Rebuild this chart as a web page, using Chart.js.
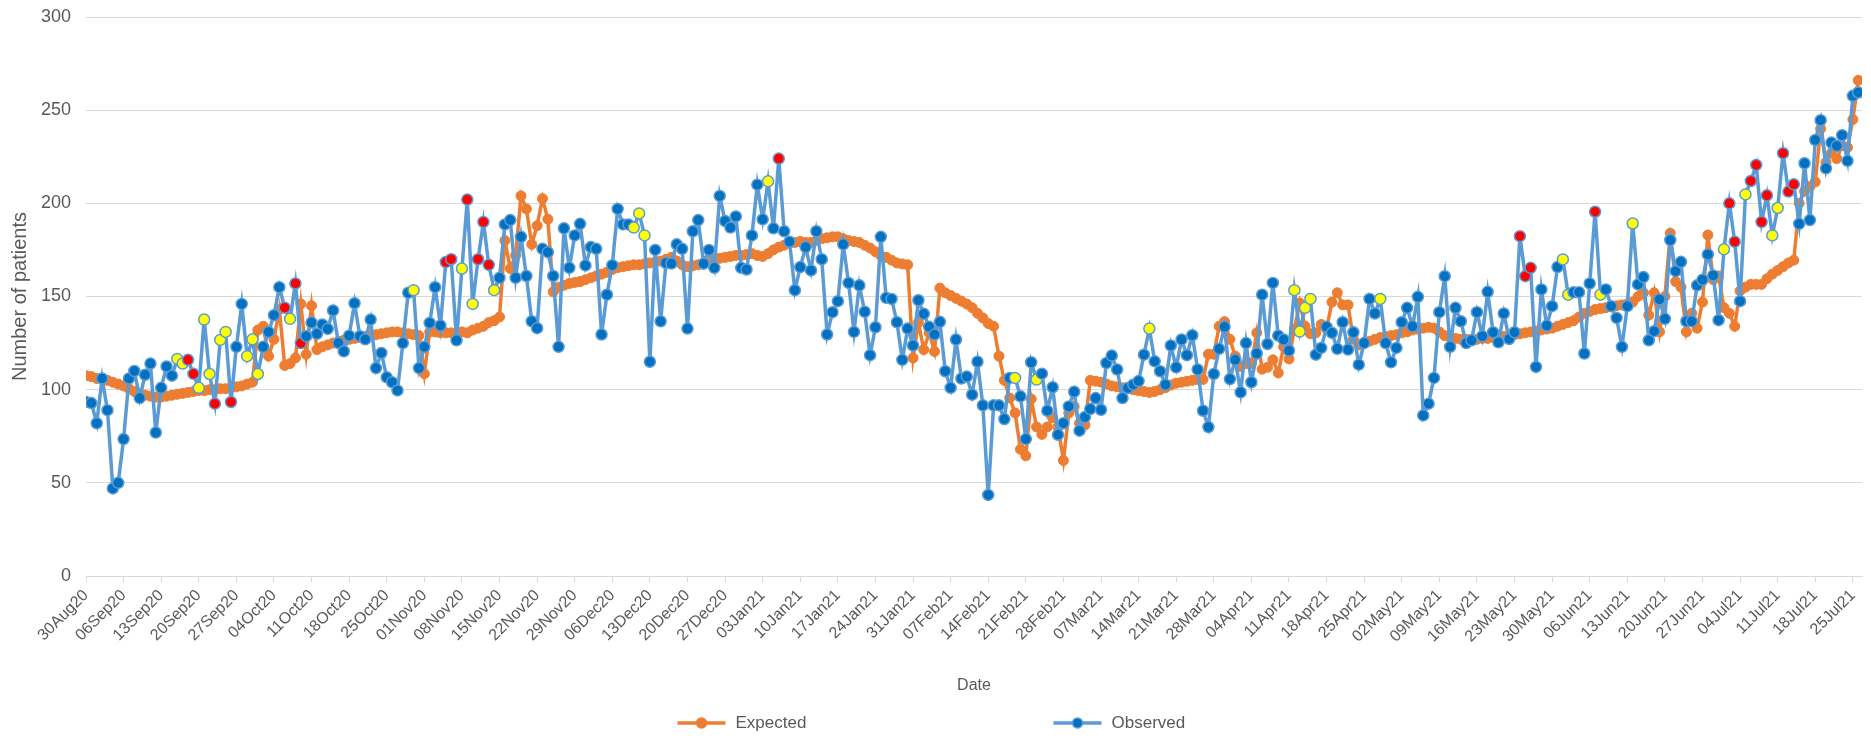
<!DOCTYPE html>
<html>
<head>
<meta charset="utf-8">
<script src="https://cdn.jsdelivr.net/npm/chart.js@4.4.1/dist/chart.umd.min.js"></script>
<style>
  html, body { margin: 0; padding: 0; background: #fff; }
  #wrap { width: 1871px; height: 739px; }
</style>
</head>
<body>
<div id="wrap"><canvas id="chart"></canvas></div>
<script>
// weekly tick labels, one every 7 days starting 30Aug20 (day 0)
var weekLabels = ['30Aug20','06Sep20','13Sep20','20Sep20','27Sep20','04Oct20','11Oct20','18Oct20','25Oct20',
  '01Nov20','08Nov20','15Nov20','22Nov20','29Nov20','06Dec20','13Dec20','20Dec20','27Dec20',
  '03Jan21','10Jan21','17Jan21','24Jan21','31Jan21','07Feb21','14Feb21','21Feb21','28Feb21',
  '07Mar21','14Mar21','21Mar21','28Mar21','04Apr21','11Apr21','18Apr21','25Apr21',
  '02May21','09May21','16May21','23May21','30May21','06Jun21','13Jun21','20Jun21','27Jun21',
  '04Jul21','11Jul21','18Jul21','25Jul21'];

// daily values, 30Aug20 .. 26Jul21
var expected = [
  107.5,107,106,106,105,104,103,102,100.5,99,
  98,97,96.5,96,96,96.5,97,97.5,98,98.5,
  99,99.5,99.5,100,100,100.5,100.5,101,101.5,102,
  103,104,132,134,118,127,143,113,114,117,
  146,119,145,121.5,123,124,125,126,126.5,127,
  127.5,128,128.5,129,129.5,130,130.5,131,131,130.5,
  130,129.5,129,108.5,131,131,130.5,130.5,130.5,130,
  131,130.5,132,133,134,136,137,139,180,165,
  172,204,197,178,188,202.5,191.5,152.5,155,156,
  157,157.5,158,159,160,161,162,163,164.5,165.5,
  166,166.5,167,167,167.5,168,168.5,169,170,171,
  169,167,166,166.5,167,168,169,170,170.5,171,
  171.5,172,172,172.5,173,172,171.5,173,175,176.5,
  177.5,178.5,179,179.5,179,179,180,181,181.5,182,
  182,181,180,179.5,179,177.5,176,174,172,171,
  169.5,168,167.5,167,117,136,121.5,130.5,120.5,154.5,
  152,150.5,149,147.5,146,144,141,138.5,135.5,134,
  118,105,95.5,87.5,68,64.5,95,80,76,80,
  85,80,62,87.5,91,82,81,105,104.5,104,
  103,102,101.5,101,100.5,100,99.5,99,98.5,99,
  100,101,102.5,103.5,104,104.5,105,105.5,105.5,119,
  119,134,136.5,127,118,112.5,114,114,130.5,111,
  112,116,109,123,116.5,132.5,146.5,134,130,130.5,
  135,132.5,147,152,145.5,145.5,127,124,125,126,
  127,128,128.5,129,129.5,130.5,131,132,132.5,133,
  133.5,133,131,129,128,127.5,127,127,127,127,
  127.5,127.5,128,128,128.5,129,129.5,130,130.5,131,
  131.5,132,132.5,133,134,135,136,137,139,141,
  142,143,143.5,144,144.5,145,145.5,146,147,150,
  152,140,152,131,150,184,158,155,131,141,
  133,147,183,159,161,144,141,134,153,155,
  156.5,156.5,156.5,159.5,162,164,166,168,169.5,200,
  206.5,209,211.5,240,222,227,224,231,230,245,266
];

var observed = [
  93.4,92.8,82,106,89,47,50,73.5,106,110,
  95.5,108,114,77,101,112.5,107.5,116.5,114,116,
  108.5,101,137.6,108.4,92.5,126.7,131,93.4,123,146,
  118,127,108.4,123,131,140,155,144,138,157,
  125,128.7,136,130,135,132.6,142.5,125,120.6,129,
  146.4,128.7,127,137.6,111.6,119.7,106.6,104,99.6,125,
  152,153.4,111.6,123,135.8,155,134.4,168.5,170,126.5,
  165,202,146,170,190,167,153.4,160,188.7,191,
  160,182,161,136.7,133,175.6,173.8,161,123,186.6,
  165.4,182.8,189,166.7,176.5,175.6,129.6,151,166.8,197,
  188.7,188.7,187,194.6,182.8,115,175,136.7,168,167.7,
  178,175.6,132.8,185,191,167.6,175,165.4,204,190.5,
  187,193,165.4,164.5,182.8,210,191.4,211.8,186.6,224,
  185,179.4,153.4,165.8,176.5,164,185,170,129.6,141.6,
  147.5,178,157.3,131,156,141.8,118.5,133.5,182,149.3,
  148.7,136.2,116,132.8,123.7,148,140.7,133.7,129.6,136.4,
  109.9,101,126.9,106,107,97.3,115,91.6,43.5,91.6,
  91.6,84.2,106.3,106.3,96.4,73.5,114.7,105.4,108.6,88.7,
  101.3,75.8,82,91,98.9,78,85.3,89.6,95.5,89.2,
  114.3,118.3,110.8,95.5,100.9,102.7,104.6,118.8,132.8,115.2,
  109.9,102.7,123.7,112,126.9,118.5,129.2,110.8,88.7,79.9,
  108.4,121.9,133.7,105.7,116,98.6,125,104,119.4,151,
  124.5,157.3,129,126.9,121,153.4,131.2,143.9,148.7,118.8,
  122.4,133.7,130.5,121.9,136.2,121.5,130.8,113.4,125,148.7,
  140.9,148.7,125,114.7,122.4,136.2,143.9,134,149.8,86.2,
  92.5,106.3,141.6,160.9,123,143.9,136.7,125,126.5,141.6,
  128.7,152.5,130.8,125.4,140.9,127.2,130.8,182.4,160.9,165.4,
  112.2,153.8,134.4,144.8,165.8,169.9,151,152.3,152.3,119.4,
  157,195.5,151,153.8,144.8,138.5,123,144.8,189.2,156.5,
  160.4,126.5,131.4,148.4,138,180.3,163.6,168.6,136.7,136.7,
  156,159,172.6,161.3,137.3,175.3,200,179.4,147.5,204.8,
  212,220.6,190,204.3,182.8,197.5,226.9,206.3,210.2,189,
  221.5,191,234,244.6,218.8,232.6,230.8,236.6,222.8,257.7,259.5
];

// flagged observed days (index into observed)
var yellowDays = [17,18,21,22,23,25,26,30,31,32,38,61,70,72,76,102,103,104,127,173,177,198,
  225,226,227,228,241,275,276,282,288,305,309,314,315];
var redDays = [19,20,24,27,37,39,40,67,68,71,73,74,75,129,267,268,269,281,306,307,310,311,
  312,313,316,317,318];

var textColor = '#595959';
var gridColor = '#d9d9d9';
var fontFamily = '"Liberation Sans", Arial, sans-serif';

function toPoints(arr) {
    return arr.map(function (v, i) { return {x: i, y: v}; });
}

var obsFill = observed.map(function (v, i) {
    if (redDays.indexOf(i) >= 0) return '#ff0000';
    if (yellowDays.indexOf(i) >= 0) return '#ffff00';
    return '#0070c0';
});

// legend drawn under the axis title, items spread wide like the original
var bottomLegend = {
    id: 'bottomLegend',
    afterDraw: function (chart) {
        var ctx = chart.ctx;
        var cx = chart.width / 2;
        var y = chart.height - 16;
        var items = [
            {x: cx - 258, ds: chart.data.datasets[0], fill: '#ed7d31'},
            {x: cx + 118, ds: chart.data.datasets[1], fill: '#0070c0'}
        ];
        ctx.save();
        items.forEach(function (it) {
            ctx.strokeStyle = it.ds.borderColor;
            ctx.lineWidth = 3.5;
            ctx.beginPath();
            ctx.moveTo(it.x, y);
            ctx.lineTo(it.x + 48, y);
            ctx.stroke();
            ctx.beginPath();
            ctx.arc(it.x + 24, y, 5, 0, Math.PI * 2);
            ctx.fillStyle = it.fill;
            ctx.fill();
            ctx.lineWidth = 1.5;
            ctx.stroke();
            ctx.fillStyle = textColor;
            ctx.font = '17px ' + fontFamily;
            ctx.textBaseline = 'middle';
            ctx.textAlign = 'left';
            ctx.fillText(it.ds.label, it.x + 58, y);
        });
        ctx.restore();
    }
};

var ctx = document.getElementById('chart').getContext('2d');
var chart = new Chart(ctx, {
    type: 'line',
    data: {
        datasets: [{
            label: 'Expected',
            data: toPoints(expected),
            borderColor: '#ed7d31',
            backgroundColor: '#ed7d31',
            borderWidth: 3.5,
            pointRadius: 5,
            pointBackgroundColor: '#ed7d31',
            pointBorderColor: '#ed7d31',
            pointBorderWidth: 1,
            tension: 0,
            order: 1
        }, {
            label: 'Observed',
            data: toPoints(observed),
            borderColor: '#5b9bd5',
            backgroundColor: '#0070c0',
            borderWidth: 3.5,
            pointRadius: 5.5,
            pointBackgroundColor: obsFill,
            pointBorderColor: '#5b9bd5',
            pointBorderWidth: 1.5,
            tension: 0,
            order: 0
        }]
    },
    options: {
        responsive: true,
        maintainAspectRatio: false,
        animation: false,
        devicePixelRatio: 1,
        layout: {padding: {left: 0, right: 9, top: 17, bottom: 40}},
        plugins: {
            legend: {display: false},
            tooltip: {enabled: false}
        },
        scales: {
            x: {
                type: 'linear',
                min: 0,
                max: 330.7,
                afterBuildTicks: function (axis) {
                    axis.ticks = weekLabels.map(function (l, i) { return {value: i * 7}; });
                },
                afterFit: function (axis) { axis.height = 123; },
                ticks: {
                    autoSkip: false,
                    maxRotation: 45,
                    minRotation: 45,
                    padding: 4,
                    color: textColor,
                    font: {family: fontFamily, size: 16},
                    callback: function (value) { return weekLabels[Math.round(value / 7)]; }
                },
                grid: {drawOnChartArea: false, drawTicks: true, tickLength: 6, color: gridColor},
                border: {display: true, color: gridColor},
                title: {
                    display: true,
                    text: 'Date',
                    color: textColor,
                    padding: {top: 4, bottom: 4},
                    font: {family: fontFamily, size: 16}
                }
            },
            y: {
                min: 0,
                max: 300,
                afterFit: function (axis) { axis.width = 86; },
                ticks: {
                    stepSize: 50,
                    padding: 2,
                    color: textColor,
                    font: {family: fontFamily, size: 18}
                },
                // invisible tick marks keep the labels clear of the plot
                grid: {color: gridColor, drawTicks: true, tickLength: 13, tickColor: 'rgba(0,0,0,0)'},
                border: {display: false},
                title: {
                    display: true,
                    text: 'Number of patients',
                    color: textColor,
                    padding: {top: 8, bottom: 0},
                    font: {family: fontFamily, size: 20}
                }
            }
        }
    },
    plugins: [bottomLegend]
});
</script>
</body>
</html>
